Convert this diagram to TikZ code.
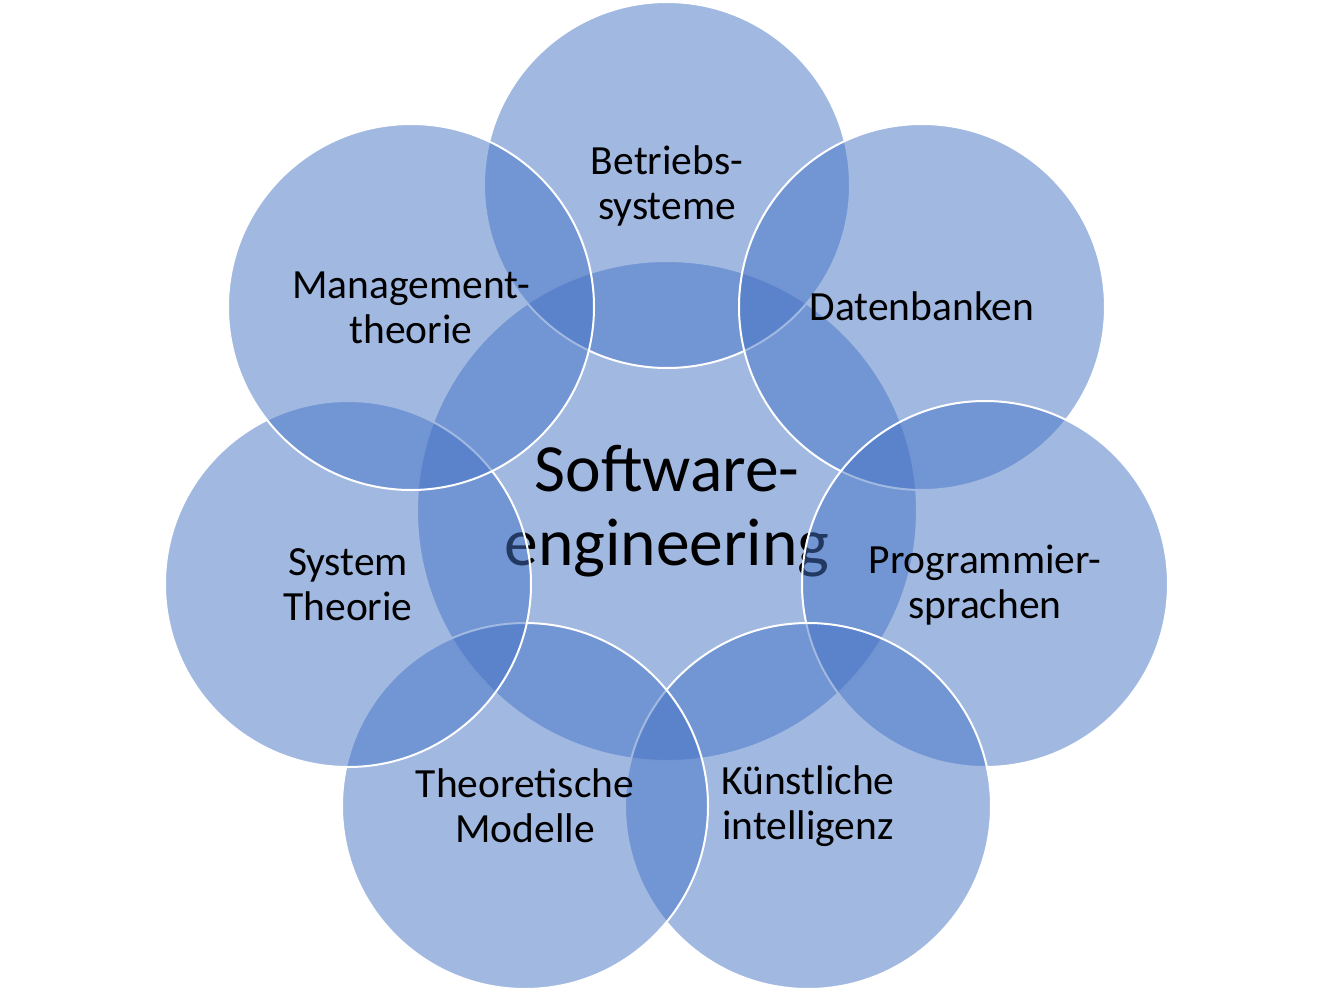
\documentclass[tikz,border=0pt]{standalone}
\usepackage{fontspec}
\setmainfont{Carlito}
\begin{document}
\begin{tikzpicture}[x=1pt,y=-1pt,
  bub/.style={circle,fill={rgb,255:red,68;green,114;blue,196},fill opacity=0.5,draw=white,line width=2pt,minimum size=#1,inner sep=0pt},
  lab/.style={align=center,font=\fontsize{41.5}{45}\selectfont,text=black},
  biglab/.style={align=center,font=\fontsize{67.5}{74}\selectfont,text=black}]
\useasboundingbox (0,0) rectangle (1334,991);
\node[bub=500pt] (c) at (667,511) {};
\node[biglab] (ct) at (667,511) {Software-\\engineering};
\node[bub=366pt] (b1) at (667,185) {};
\node[bub=366pt] (b2) at (922,307) {};
\node[bub=366pt] (b3) at (985,584) {};
\node[bub=366pt] (b4) at (808,806) {};
\node[bub=366pt] (b5) at (525,806) {};
\node[bub=366pt] (b6) at (348,584) {};
\node[bub=366pt] (b7) at (411,307) {};
\node[lab] (t1) at (667,186) {Betriebs-\\systeme};
\node[lab] (t2) at (922,306) {Datenbanken};
\node[lab] (t3) at (985,585) {Programmier-\\sprachen};
\node[lab] (t4) at (808,806) {Künstliche\\intelligenz};
\node[lab] (t5) at (525,806) {Theoretische\\Modelle};
\node[lab] (t6) at (348,585) {System\\Theorie};
\node[lab] (t7) at (411,308) {Management-\\theorie};
\end{tikzpicture}
\end{document}
